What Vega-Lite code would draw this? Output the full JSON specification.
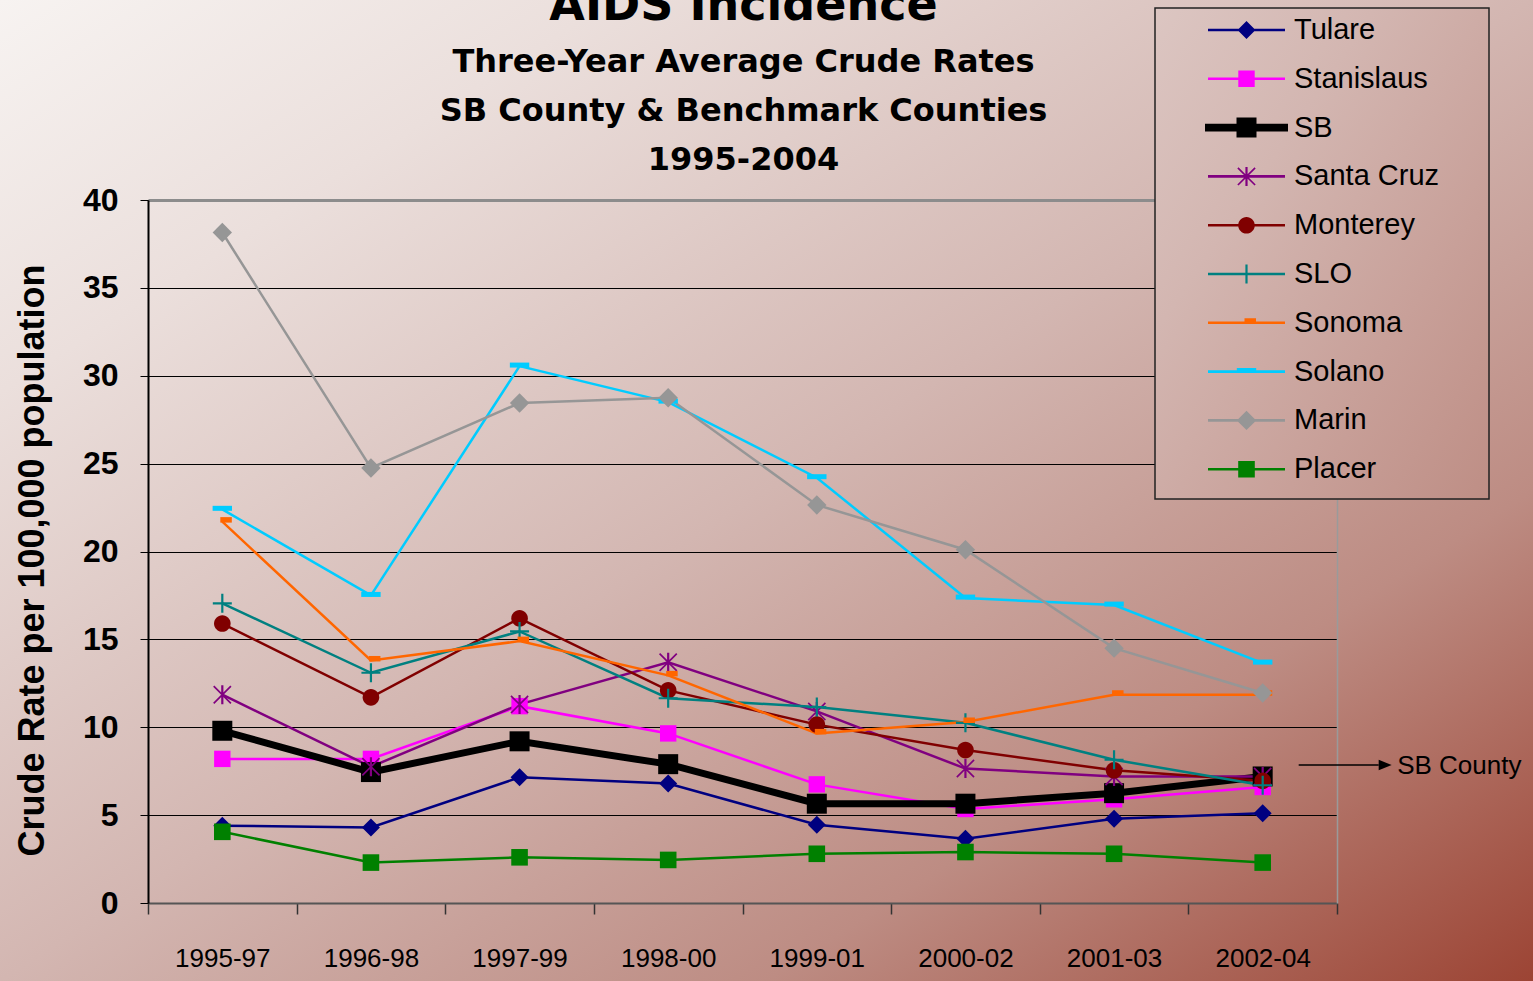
{
  "$schema": "https://vega.github.io/schema/vega-lite/v6.json",
  "width": 1533,
  "height": 981,
  "padding": 0,
  "autosize": {"type": "none"},
  "background": "#d3b6b1",
  "title": {
    "text": "AIDS Incidence",
    "subtitle": ["Three-Year Average Crude Rates", "SB County & Benchmark Counties", "1995-2004"],
    "font": "DejaVu Sans",
    "fontSize": 46,
    "fontWeight": "bold",
    "color": "black",
    "subtitleFont": "DejaVu Sans",
    "subtitleFontSize": 32,
    "subtitleFontWeight": "bold",
    "subtitleColor": "black",
    "subtitleLineHeight": 49,
    "subtitlePadding": 17,
    "anchor": "middle",
    "frame": "group",
    "dx": -23,
    "offset": -177
  },
  "datasets": {
    "rates": [
      {"county": "Tulare", "period": "1995-97", "rate": 4.4},
      {"county": "Tulare", "period": "1996-98", "rate": 4.3},
      {"county": "Tulare", "period": "1997-99", "rate": 7.15},
      {"county": "Tulare", "period": "1998-00", "rate": 6.8},
      {"county": "Tulare", "period": "1999-01", "rate": 4.45},
      {"county": "Tulare", "period": "2000-02", "rate": 3.65},
      {"county": "Tulare", "period": "2001-03", "rate": 4.8},
      {"county": "Tulare", "period": "2002-04", "rate": 5.1},
      {"county": "Stanislaus", "period": "1995-97", "rate": 8.2},
      {"county": "Stanislaus", "period": "1996-98", "rate": 8.2},
      {"county": "Stanislaus", "period": "1997-99", "rate": 11.2},
      {"county": "Stanislaus", "period": "1998-00", "rate": 9.65},
      {"county": "Stanislaus", "period": "1999-01", "rate": 6.75},
      {"county": "Stanislaus", "period": "2000-02", "rate": 5.35},
      {"county": "Stanislaus", "period": "2001-03", "rate": 5.9},
      {"county": "Stanislaus", "period": "2002-04", "rate": 6.6},
      {"county": "SB", "period": "1995-97", "rate": 9.8},
      {"county": "SB", "period": "1996-98", "rate": 7.45},
      {"county": "SB", "period": "1997-99", "rate": 9.2},
      {"county": "SB", "period": "1998-00", "rate": 7.9},
      {"county": "SB", "period": "1999-01", "rate": 5.65},
      {"county": "SB", "period": "2000-02", "rate": 5.65},
      {"county": "SB", "period": "2001-03", "rate": 6.25},
      {"county": "SB", "period": "2002-04", "rate": 7.2},
      {"county": "Santa Cruz", "period": "1995-97", "rate": 11.85},
      {"county": "Santa Cruz", "period": "1996-98", "rate": 7.75},
      {"county": "Santa Cruz", "period": "1997-99", "rate": 11.3},
      {"county": "Santa Cruz", "period": "1998-00", "rate": 13.7},
      {"county": "Santa Cruz", "period": "1999-01", "rate": 10.9},
      {"county": "Santa Cruz", "period": "2000-02", "rate": 7.65},
      {"county": "Santa Cruz", "period": "2001-03", "rate": 7.2},
      {"county": "Santa Cruz", "period": "2002-04", "rate": 7.2},
      {"county": "Monterey", "period": "1995-97", "rate": 15.9},
      {"county": "Monterey", "period": "1996-98", "rate": 11.7},
      {"county": "Monterey", "period": "1997-99", "rate": 16.2},
      {"county": "Monterey", "period": "1998-00", "rate": 12.1},
      {"county": "Monterey", "period": "1999-01", "rate": 10.15},
      {"county": "Monterey", "period": "2000-02", "rate": 8.7},
      {"county": "Monterey", "period": "2001-03", "rate": 7.55},
      {"county": "Monterey", "period": "2002-04", "rate": 6.95},
      {"county": "SLO", "period": "1995-97", "rate": 17.05},
      {"county": "SLO", "period": "1996-98", "rate": 13.1},
      {"county": "SLO", "period": "1997-99", "rate": 15.45},
      {"county": "SLO", "period": "1998-00", "rate": 11.65},
      {"county": "SLO", "period": "1999-01", "rate": 11.15},
      {"county": "SLO", "period": "2000-02", "rate": 10.25},
      {"county": "SLO", "period": "2001-03", "rate": 8.15},
      {"county": "SLO", "period": "2002-04", "rate": 6.7},
      {"county": "Sonoma", "period": "1995-97", "rate": 21.7},
      {"county": "Sonoma", "period": "1996-98", "rate": 13.8},
      {"county": "Sonoma", "period": "1997-99", "rate": 14.9},
      {"county": "Sonoma", "period": "1998-00", "rate": 12.95},
      {"county": "Sonoma", "period": "1999-01", "rate": 9.65},
      {"county": "Sonoma", "period": "2000-02", "rate": 10.3},
      {"county": "Sonoma", "period": "2001-03", "rate": 11.85},
      {"county": "Sonoma", "period": "2002-04", "rate": 11.85},
      {"county": "Solano", "period": "1995-97", "rate": 22.4},
      {"county": "Solano", "period": "1996-98", "rate": 17.5},
      {"county": "Solano", "period": "1997-99", "rate": 30.55},
      {"county": "Solano", "period": "1998-00", "rate": 28.5},
      {"county": "Solano", "period": "1999-01", "rate": 24.2},
      {"county": "Solano", "period": "2000-02", "rate": 17.35},
      {"county": "Solano", "period": "2001-03", "rate": 16.95},
      {"county": "Solano", "period": "2002-04", "rate": 13.65},
      {"county": "Marin", "period": "1995-97", "rate": 38.15},
      {"county": "Marin", "period": "1996-98", "rate": 24.75},
      {"county": "Marin", "period": "1997-99", "rate": 28.45},
      {"county": "Marin", "period": "1998-00", "rate": 28.75},
      {"county": "Marin", "period": "1999-01", "rate": 22.65},
      {"county": "Marin", "period": "2000-02", "rate": 20.1},
      {"county": "Marin", "period": "2001-03", "rate": 14.5},
      {"county": "Marin", "period": "2002-04", "rate": 11.95},
      {"county": "Placer", "period": "1995-97", "rate": 4.05},
      {"county": "Placer", "period": "1996-98", "rate": 2.3},
      {"county": "Placer", "period": "1997-99", "rate": 2.6},
      {"county": "Placer", "period": "1998-00", "rate": 2.45},
      {"county": "Placer", "period": "1999-01", "rate": 2.8},
      {"county": "Placer", "period": "2000-02", "rate": 2.9},
      {"county": "Placer", "period": "2001-03", "rate": 2.8},
      {"county": "Placer", "period": "2002-04", "rate": 2.3}
    ],
    "note": [
      {"period": "2002-04", "rate": 7.85, "label": "SB County"}
    ]
  },
  "layer": [
    {
      "data": {"name": "rates"},
      "mark": {"type": "line", "strokeJoin": "miter"},
      "encoding": {
        "x": {
          "field": "period",
          "type": "ordinal",
          "scale": {
            "type": "band",
            "domain": ["1995-97", "1996-98", "1997-99", "1998-00", "1999-01", "2000-02", "2001-03", "2002-04"],
            "range": [148, 1337],
            "paddingInner": 0,
            "paddingOuter": 0
          },
          "axis": {
            "orient": "bottom",
            "offset": -78,
            "title": null,
            "grid": false,
            "tickBand": "extent",
            "tickSize": 11,
            "tickColor": "#333333",
            "tickWidth": 1.5,
            "domainColor": "#555555",
            "domainWidth": 2,
            "labelFont": "Liberation Sans",
            "labelFontSize": 26,
            "labelColor": "black",
            "labelAngle": 0,
            "labelBaseline": "alphabetic",
            "labelPadding": 52
          }
        },
        "y": {
          "field": "rate",
          "type": "quantitative",
          "scale": {"domain": [0, 40], "range": [903, 200], "nice": false, "zero": false},
          "axis": {
            "orient": "left",
            "offset": -148,
            "values": [0, 5, 10, 15, 20, 25, 30, 35, 40],
            "grid": true,
            "gridColor": "black",
            "gridWidth": 1,
            "gridOpacity": 1,
            "domainColor": "black",
            "domainWidth": 2,
            "tickColor": "black",
            "tickSize": 8,
            "tickWidth": 1,
            "labelFont": "Liberation Sans",
            "labelFontSize": 32,
            "labelFontWeight": "bold",
            "labelColor": "black",
            "labelPadding": 22,
            "title": "Crude Rate per 100,000 population",
            "titleFont": "Liberation Sans",
            "titleFontSize": 36,
            "titleFontWeight": "bold",
            "titleColor": "black",
            "titleAngle": -90,
            "titleX": -105,
            "titleY": 560,
            "titleAlign": "center",
            "titleBaseline": "alphabetic"
          }
        },
        "color": {
          "field": "county",
          "type": "nominal",
          "scale": {
            "domain": ["Tulare", "Stanislaus", "SB", "Santa Cruz", "Monterey", "SLO", "Sonoma", "Solano", "Marin", "Placer"],
            "range": ["#000080", "#ff00ff", "#000000", "#800080", "#800000", "#008080", "#ff6600", "#00ccff", "#969696", "#008000"]
          },
          "legend": null
        },
        "strokeWidth": {"condition": {"test": "datum.county === 'SB'", "value": 7}, "value": 2.5}
      }
    },
    {
      "data": {"name": "rates"},
      "mark": {"type": "point", "filled": true, "opacity": 1, "size": 400, "strokeWidth": 0},
      "encoding": {
        "x": {
          "field": "period",
          "type": "ordinal",
          "axis": {"orient": "top", "offset": -200, "labels": false, "ticks": false, "grid": false, "title": null, "domainColor": "#8c8c8c", "domainWidth": 3}
        },
        "y": {
          "field": "rate",
          "type": "quantitative",
          "axis": {"orient": "right", "offset": -196, "labels": false, "ticks": false, "grid": false, "title": null, "domainColor": "#9a9a9a", "domainWidth": 1.5}
        },
        "color": {"field": "county", "type": "nominal", "legend": null},
        "shape": {
          "field": "county",
          "type": "nominal",
          "scale": {
            "domain": ["Tulare", "Stanislaus", "SB", "Santa Cruz", "Monterey", "SLO", "Sonoma", "Solano", "Marin", "Placer"],
            "range": [
              "M-0.9,0L0,-0.9L0.9,0L0,0.9Z",
              "M-0.82,-0.82H0.82V0.82H-0.82Z",
              "M-1,-1H1V1H-1Z",
              "M-0.11,-0.95H0.11V0.95H-0.11Z M-0.8,-0.92L0.92,0.8L0.8,0.92L-0.92,-0.8Z M-0.92,0.8L0.8,-0.92L0.92,-0.8L-0.8,0.92Z",
              "M-0.83,0A0.83,0.83,0,1,1,0.83,0A0.83,0.83,0,1,1,-0.83,0Z",
              "M-0.95,-0.11H0.95V0.11H-0.95Z M-0.11,-0.95H0.11V0.95H-0.11Z",
              "M-0.2,-0.45H0.95V0.1H-0.2Z",
              "M-0.97,-0.35H0.97V0.15H-0.97Z",
              "M-0.97,0L0,-0.97L0.97,0L0,0.97Z",
              "M-0.83,-0.83H0.83V0.83H-0.83Z"
            ]
          },
          "legend": null
        }
      }
    },
    {
      "data": {"name": "rates"},
      "mark": {"type": "point", "filled": true, "opacity": 0, "size": 400, "strokeWidth": 0},
      "encoding": {
        "x": {"field": "period", "type": "ordinal", "axis": null},
        "y": {"field": "rate", "type": "quantitative", "axis": null},
        "color": {
          "field": "county",
          "type": "nominal",
          "legend": {
            "orient": "none",
            "legendX": 1155,
            "legendY": 8,
            "direction": "vertical",
            "title": "\u2800",
            "titleOrient": "bottom",
            "titleFontSize": 7,
            "titlePadding": 0,
            "padding": 7.5,
            "rowPadding": 18.8,
            "symbolOffset": 69.5,
            "labelOffset": 33,
            "labelFont": "Liberation Sans",
            "labelFontSize": 29,
            "labelColor": "black",
            "labelBaseline": "middle",
            "labelLimit": 600,
            "labelExpr": "datum.label + '\u2800\u2800'",
            "symbolSize": 400,
            "symbolOpacity": 1,
            "symbolStrokeWidth": 0,
            "encode": {
              "legend": {
                "update": {
                  "fill": {"value": {"gradient": "linear", "x1": 0, "y1": 0, "x2": 1, "y2": 1, "stops": [{"offset": 0, "color": "#dcc6c2"}, {"offset": 0.33, "color": "#d3b6b1"}, {"offset": 0.69, "color": "#c8a099"}, {"offset": 1, "color": "#be8e85"}]}},
                  "stroke": {"value": "#222222"},
                  "strokeWidth": {"value": 1.5}
                }
              }
            }
          }
        },
        "shape": {
          "field": "county",
          "type": "nominal",
          "scale": {
            "domain": ["Tulare", "Stanislaus", "SB", "Santa Cruz", "Monterey", "SLO", "Sonoma", "Solano", "Marin", "Placer"],
            "range": [
              "M-3.85,-0.13H3.85V0.13H-3.85Z M-0.9,0L0,-0.9L0.9,0L0,0.9Z",
              "M-3.85,-0.13H3.85V0.13H-3.85Z M-0.82,-0.82H0.82V0.82H-0.82Z",
              "M-4.15,-0.38H4.15V0.38H-4.15Z M-1,-1H1V1H-1Z",
              "M-3.85,-0.13H3.85V0.13H-3.85Z M-0.11,-0.95H0.11V0.95H-0.11Z M-0.8,-0.92L0.92,0.8L0.8,0.92L-0.92,-0.8Z M-0.92,0.8L0.8,-0.92L0.92,-0.8L-0.8,0.92Z",
              "M-3.85,-0.13H3.85V0.13H-3.85Z M-0.83,0A0.83,0.83,0,1,1,0.83,0A0.83,0.83,0,1,1,-0.83,0Z",
              "M-3.85,-0.13H3.85V0.13H-3.85Z M-0.11,-0.95H0.11V0.95H-0.11Z",
              "M-3.85,-0.13H3.85V0.13H-3.85Z M-0.2,-0.45H0.95V0.1H-0.2Z",
              "M-3.85,-0.13H3.85V0.13H-3.85Z M-0.97,-0.35H0.97V0.15H-0.97Z",
              "M-3.85,-0.13H3.85V0.13H-3.85Z M-0.97,0L0,-0.97L0.97,0L0,0.97Z",
              "M-3.85,-0.13H3.85V0.13H-3.85Z M-0.83,-0.83H0.83V0.83H-0.83Z"
            ]
          },
          "legend": {
            "orient": "none",
            "legendX": 1155,
            "legendY": 8,
            "direction": "vertical",
            "title": "\u2800",
            "titleOrient": "bottom",
            "titleFontSize": 7,
            "titlePadding": 0,
            "padding": 7.5,
            "rowPadding": 18.8,
            "symbolOffset": 69.5,
            "labelOffset": 33,
            "labelFont": "Liberation Sans",
            "labelFontSize": 29,
            "labelColor": "black",
            "labelBaseline": "middle",
            "labelLimit": 600,
            "labelExpr": "datum.label + '\u2800\u2800'",
            "symbolSize": 400,
            "symbolOpacity": 1,
            "symbolStrokeWidth": 0,
            "encode": {
              "legend": {
                "update": {
                  "fill": {"value": {"gradient": "linear", "x1": 0, "y1": 0, "x2": 1, "y2": 1, "stops": [{"offset": 0, "color": "#dcc6c2"}, {"offset": 0.33, "color": "#d3b6b1"}, {"offset": 0.69, "color": "#c8a099"}, {"offset": 1, "color": "#be8e85"}]}},
                  "stroke": {"value": "#222222"},
                  "strokeWidth": {"value": 1.5}
                }
              }
            }
          }
        }
      }
    },
    {
      "data": {"name": "note"},
      "mark": {"type": "rule", "xOffset": 36, "x2Offset": 116, "color": "black", "strokeWidth": 1.5},
      "encoding": {
        "x": {"field": "period", "type": "ordinal", "axis": null},
        "x2": {"field": "period"},
        "y": {"field": "rate", "type": "quantitative", "axis": null}
      }
    },
    {
      "data": {"name": "note"},
      "mark": {"type": "point", "shape": "M-1,-0.8L1,0L-1,0.8Z", "size": 169, "filled": true, "opacity": 1, "color": "black", "strokeWidth": 0, "xOffset": 122.5},
      "encoding": {
        "x": {"field": "period", "type": "ordinal", "axis": null},
        "y": {"field": "rate", "type": "quantitative", "axis": null}
      }
    },
    {
      "data": {"name": "note"},
      "mark": {"type": "text", "align": "left", "baseline": "middle", "dx": 134.5, "dy": 1, "font": "Liberation Sans", "fontSize": 26, "color": "black"},
      "encoding": {
        "x": {"field": "period", "type": "ordinal", "axis": null},
        "y": {"field": "rate", "type": "quantitative", "axis": null},
        "text": {"field": "label"}
      }
    }
  ],
  "resolve": {
    "axis": {"x": "independent", "y": "independent"},
    "scale": {"shape": "independent"},
    "legend": {"color": "independent", "shape": "independent"}
  },
  "config": {
    "view": {
      "stroke": null,
      "fill": {"gradient": "linear", "x1": 0, "y1": 0, "x2": 1, "y2": 1, "stops": [{"offset": 0, "color": "#f7f3f1"}, {"offset": 0.2, "color": "#ebdfdc"}, {"offset": 0.5, "color": "#d3b6b1"}, {"offset": 0.75, "color": "#bd8c83"}, {"offset": 1, "color": "#9c4434"}]}
    }
  }
}
